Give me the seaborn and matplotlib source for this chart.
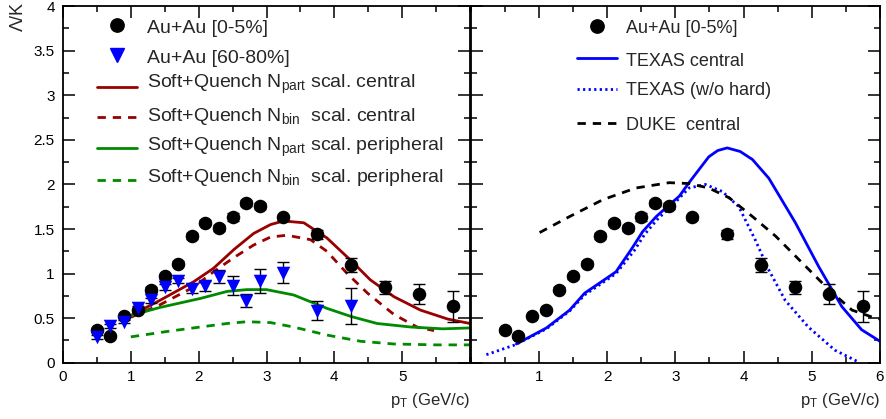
import numpy as np
import matplotlib
matplotlib.use("Agg")
import matplotlib.pyplot as plt
from matplotlib.ticker import MultipleLocator, FormatStrFormatter
import seaborn as sns

# data points
pt = [0.5, 0.7, 0.9, 1.1, 1.3, 1.5, 1.7, 1.9, 2.1, 2.3, 2.5, 2.7, 2.9,
      3.25, 3.75, 4.25, 4.75, 5.25, 5.75]
central = [0.37, 0.30, 0.52, 0.59, 0.82, 0.97, 1.11, 1.42, 1.57, 1.51, 1.64,
           1.79, 1.76, 1.63, 1.44, 1.10, 0.845, 0.77, 0.635]
central_err = [0.02, 0.02, 0.02, 0.02, 0.03, 0.03, 0.03, 0.03, 0.03, 0.03, 0.045,
               0.03, 0.03, 0.03, 0.05, 0.08, 0.075, 0.11, 0.175]

pt_periph = [0.5, 0.7, 0.9, 1.1, 1.3, 1.5, 1.7, 1.9, 2.1, 2.3, 2.5, 2.7, 2.9,
             3.25, 3.75, 4.25]
periph = [0.29, 0.41, 0.46, 0.61, 0.70, 0.85, 0.92, 0.83, 0.86, 0.965, 0.865,
          0.695, 0.915, 1.01, 0.585, 0.635]
periph_err = [0.02, 0.02, 0.02, 0.03, 0.03, 0.03, 0.03, 0.05, 0.06, 0.075, 0.105,
              0.075, 0.135, 0.12, 0.105, 0.205]

# Soft+Quench curves
sq_npart_c_x = [1.0, 1.43, 1.93, 2.22, 2.52, 2.81, 3.06, 3.25, 3.55, 3.89, 4.24,
                4.53, 4.88, 5.27, 5.67, 6.0]
sq_npart_c_y = [0.53, 0.70, 0.91, 1.06, 1.27, 1.45, 1.55, 1.59, 1.57, 1.40, 1.15,
                0.93, 0.74, 0.59, 0.49, 0.44]
sq_nbin_c_x = [1.0, 1.43, 1.93, 2.22, 2.52, 2.81, 3.06, 3.30, 3.65, 3.89, 4.19,
               4.49, 4.88, 5.22, 5.47]
sq_nbin_c_y = [0.51, 0.65, 0.85, 1.02, 1.18, 1.32, 1.41, 1.43, 1.38, 1.25, 1.00,
               0.78, 0.54, 0.40, 0.36]
sq_npart_p_x = [1.0, 1.43, 2.02, 2.42, 2.71, 3.0, 3.40, 3.89, 4.24, 4.63, 5.13,
                5.6, 6.0]
sq_npart_p_y = [0.53, 0.62, 0.72, 0.80, 0.82, 0.82, 0.76, 0.61, 0.52, 0.44, 0.40,
                0.38, 0.39]
sq_nbin_p_x = [1.0, 1.53, 2.02, 2.42, 2.71, 3.06, 3.40, 3.89, 4.39, 4.88, 5.5, 6.0]
sq_nbin_p_y = [0.29, 0.35, 0.40, 0.44, 0.46, 0.45, 0.40, 0.31, 0.24, 0.21, 0.20, 0.20]

# hydro curves (right panel)
texas_x = [0.67, 1.11, 1.45, 1.67, 2.13, 2.37, 2.52, 2.72, 2.91, 3.06, 3.2, 3.49,
           3.62, 3.76, 3.95, 4.13, 4.37, 4.76, 5.10, 5.44, 5.73, 6.0]
texas_y = [0.21, 0.39, 0.59, 0.78, 1.02, 1.29, 1.47, 1.64, 1.77, 1.87, 2.02, 2.31,
           2.38, 2.41, 2.37, 2.28, 2.07, 1.57, 1.08, 0.63, 0.37, 0.24]
texas_soft_x = [0.23, 0.65, 1.11, 1.45, 1.67, 2.13, 2.40, 2.55, 2.75, 2.95, 3.2,
                3.44, 3.69, 3.93, 4.17, 4.37, 4.61, 4.95, 5.34, 5.68]
texas_soft_y = [0.09, 0.20, 0.38, 0.58, 0.76, 1.00, 1.26, 1.44, 1.62, 1.76, 1.96,
                2.00, 1.92, 1.75, 1.38, 1.04, 0.70, 0.40, 0.14, 0.01]
duke_x = [1.01, 1.45, 1.94, 2.42, 2.91, 3.2, 3.49, 3.79, 4.13, 4.47, 4.86, 5.25,
          5.59, 5.93, 6.0]
duke_y = [1.46, 1.64, 1.83, 1.96, 2.02, 2.01, 1.96, 1.85, 1.64, 1.42, 1.12, 0.82,
          0.59, 0.50, 0.49]

DARKRED = "#990000"
GREEN = "#008a00"
BLUE = "#0000ff"

sns.set_style("ticks")
plt.rcParams["font.family"] = ["Liberation Sans", "DejaVu Sans"]
plt.rcParams["mathtext.fontset"] = "custom"
plt.rcParams["mathtext.rm"] = "Liberation Sans"
plt.rcParams["mathtext.it"] = "Liberation Sans"
FS = 11

fig = plt.figure(figsize=(8.86, 4.19), dpi=100)
ax1 = fig.add_axes([63 / 886, 56.3 / 419, 407 / 886, 356.5 / 419])
ax2 = fig.add_axes([470.7 / 886, 56.3 / 419, 409.3 / 886, 356.5 / 419])


def style_axis(ax):
    ax.set_xlim(0, 6)
    ax.set_ylim(0, 4)
    ax.xaxis.set_major_locator(MultipleLocator(1))
    ax.xaxis.set_minor_locator(MultipleLocator(0.5))
    ax.yaxis.set_major_locator(MultipleLocator(0.5))
    ax.yaxis.set_minor_locator(MultipleLocator(0.25))
    ax.yaxis.set_major_formatter(FormatStrFormatter("%g"))
    ax.tick_params(which="both", direction="in", top=True, right=True,
                   width=1.1, labelsize=FS, colors="black")
    ax.tick_params(which="major", length=8.5)
    ax.tick_params(which="minor", length=4.2)
    ax.tick_params(axis="x", pad=5)
    ax.tick_params(axis="y", pad=6)
    for s in ax.spines.values():
        s.set_linewidth(1.3)
        s.set_color("black")
    ax.set_xlabel("")
    ax.set_ylabel("")


def draw_points(ax, with_periph):
    ax.errorbar(pt, central, yerr=central_err, fmt="none", ecolor="black",
                elinewidth=1.0, capsize=4.5, capthick=1.0, zorder=3)
    sns.scatterplot(x=pt, y=central, ax=ax, marker="o", s=95, color="black",
                    edgecolor="black", linewidth=0, zorder=4)
    if with_periph:
        ax.errorbar(pt_periph, periph, yerr=periph_err, fmt="none", ecolor="black",
                    elinewidth=1.0, capsize=4.5, capthick=1.0, zorder=3)
        sns.scatterplot(x=pt_periph, y=periph, ax=ax, marker="v", s=95, color=BLUE,
                        edgecolor=BLUE, linewidth=0, zorder=4)


# ---- left panel ----
sns.lineplot(x=sq_npart_c_x, y=sq_npart_c_y, ax=ax1, color=DARKRED, linewidth=2.0)
sns.lineplot(x=sq_nbin_c_x, y=sq_nbin_c_y, ax=ax1, color=DARKRED, linewidth=2.0,
             linestyle=(0, (3, 2.5)))
sns.lineplot(x=sq_npart_p_x, y=sq_npart_p_y, ax=ax1, color=GREEN, linewidth=2.0)
sns.lineplot(x=sq_nbin_p_x, y=sq_nbin_p_y, ax=ax1, color=GREEN, linewidth=2.0,
             linestyle=(0, (3, 2.5)))
draw_points(ax1, True)
style_axis(ax1)
ax1.set_xticks([0, 1, 2, 3, 4, 5])
ax1.set_xticks(np.arange(0, 6.01, 0.5), minor=True)

# ---- right panel ----
sns.lineplot(x=texas_x, y=texas_y, ax=ax2, color=BLUE, linewidth=2.0)
sns.lineplot(x=texas_soft_x, y=texas_soft_y, ax=ax2, color=BLUE, linewidth=2.0,
             linestyle=(0, (0.8, 1.2)))
sns.lineplot(x=duke_x, y=duke_y, ax=ax2, color="black", linewidth=2.0,
             linestyle=(0, (3, 2.5)))
draw_points(ax2, False)
style_axis(ax2)
ax2.set_xticks([1, 2, 3, 4, 5, 6])
ax2.set_yticklabels([])

# ---- legends (drawn by hand, ROOT style) ----
T = lambda ax: ax.transAxes
ax1.plot([0.132], [0.947], "o", ms=9.6, color="black", transform=T(ax1), clip_on=False)
ax1.plot([0.132], [0.864], "v", ms=9.6, color=BLUE, transform=T(ax1), clip_on=False)
ax1.plot([0.083, 0.183], [0.774, 0.774], color=DARKRED, lw=2.0, transform=T(ax1))
ax1.plot([0.083, 0.183], [0.689, 0.689], color=DARKRED, lw=2.0, ls=(0, (3, 2.5)),
         transform=T(ax1))
ax1.plot([0.083, 0.183], [0.601, 0.601], color=GREEN, lw=2.0, transform=T(ax1))
ax1.plot([0.083, 0.183], [0.512, 0.512], color=GREEN, lw=2.0, ls=(0, (3, 2.5)),
         transform=T(ax1))
left_labels = [
    ("Au+Au [0-5%]", 0.925),
    ("Au+Au [60-80%]", 0.841),
    (r"Soft+Quench N$_{\mathregular{part}}$ scal. central", 0.771),
    (r"Soft+Quench N$_{\mathregular{bin}}$  scal. central", 0.679),
    (r"Soft+Quench N$_{\mathregular{part}}$ scal. peripheral", 0.593),
    (r"Soft+Quench N$_{\mathregular{bin}}$  scal. peripheral", 0.508),
]
for txt, yy in left_labels:
    ax1.text(0.206, yy, txt, transform=T(ax1), fontsize=14, ha="left", va="baseline")

ax2.plot([0.308], [0.944], "o", ms=9.6, color="black", transform=T(ax2), clip_on=False)
ax2.plot([0.259, 0.357], [0.855, 0.855], color=BLUE, lw=2.0, transform=T(ax2))
ax2.plot([0.259, 0.357], [0.768, 0.768], color=BLUE, lw=2.0, ls=(0, (0.8, 1.2)),
         transform=T(ax2))
ax2.plot([0.259, 0.357], [0.673, 0.673], color="black", lw=2.0, ls=(0, (3, 2.5)),
         transform=T(ax2))
right_labels = [
    ("Au+Au [0-5%]", 0.925),
    ("TEXAS central", 0.833),
    ("TEXAS (w/o hard)", 0.752),
    ("DUKE  central", 0.654),
]
for txt, yy in right_labels:
    ax2.text(0.379, yy, txt, transform=T(ax2), fontsize=13, ha="left", va="baseline")

# axis titles
for ax in (ax1, ax2):
    ax.text(1.0, -0.119, r"p$_{\mathregular{T}}$ (GeV/c)", transform=ax.transAxes,
            fontsize=FS + 1, ha="right", va="baseline")
fig.text(18 / 886, 0.995, "Λ/K", rotation=90, fontsize=13, ha="center", va="top")

fig.savefig("out.png", dpi=100)
